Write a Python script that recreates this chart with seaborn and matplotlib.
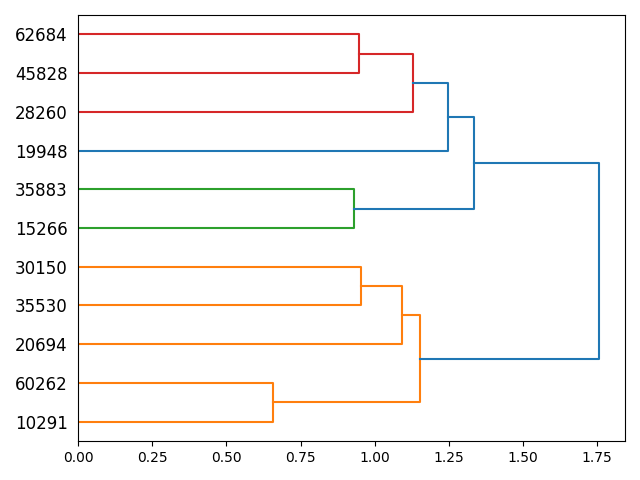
import numpy as np
import pandas as pd
import matplotlib
matplotlib.use('Agg')
import matplotlib.pyplot as plt
import seaborn as sns

# leaf labels, bottom to top
labels = ['10291', '60262', '20694', '35530', '30150', '15266',
          '35883', '19948', '28260', '45828', '62684']

# merges: (child_a, child_b, height) ; new cluster ids start at len(labels)
merge_a = [0, 5, 9, 3, 2, 8, 11, 7, 12, 17]
merge_b = [1, 6, 10, 4, 14, 13, 15, 16, 18, 19]
merge_h = [0.656, 0.930, 0.947, 0.954, 1.093, 1.130, 1.153, 1.248, 1.335, 1.757]

n = len(labels)
pal = sns.color_palette('tab10')
above_color = pal[0]
cluster_colors = [pal[1], pal[2], pal[3], pal[4], pal[5]]
threshold = 0.7 * max(merge_h)

# positions of each node (y) and height (x)
node_y = {i: 5 + 10 * i for i in range(n)}
node_x = {i: 0.0 for i in range(n)}
for k, (a, b, h) in enumerate(zip(merge_a, merge_b, merge_h)):
    node_y[n + k] = (node_y[a] + node_y[b]) / 2
    node_x[n + k] = h

# colour links: every maximal subtree below the threshold gets its own colour
link_color = {}
cidx = [0]

def paint(node, color):
    if node < n:
        return
    k = node - n
    h = merge_h[k]
    if color is None and h < threshold:
        color = cluster_colors[cidx[0] % len(cluster_colors)]
        cidx[0] += 1
    link_color[k] = color if color is not None else above_color
    paint(merge_a[k], color)
    paint(merge_b[k], color)

paint(n + len(merge_h) - 1, None)

rows = []
for k, (a, b, h) in enumerate(zip(merge_a, merge_b, merge_h)):
    pts = [(node_x[a], node_y[a]), (h, node_y[a]), (h, node_y[b]), (node_x[b], node_y[b])]
    for j, (x, y) in enumerate(pts):
        rows.append({'x': x, 'y': y, 'link': k, 'order': j})
df = pd.DataFrame(rows)

fig, ax = plt.subplots(figsize=(6.4, 4.8), dpi=100)
for k in range(len(merge_h)):
    sub = df[df['link'] == k]
    sns.lineplot(data=sub, x='x', y='y', sort=False, estimator=None,
                 color=link_color[k], linewidth=1.5, ax=ax)

ax.set_xlim(0, max(merge_h) * 1.05)
ax.set_ylim(0, 10 * n)
ax.set_yticks([node_y[i] for i in range(n)])
ax.set_yticklabels(labels, fontsize=12)
ax.tick_params(axis='y', length=0, pad=7.5)
ax.set_xlabel('')
ax.set_ylabel('')

fig.subplots_adjust(left=0.122, right=0.977, top=0.969, bottom=0.081)
plt.savefig('out.png', dpi=100)
